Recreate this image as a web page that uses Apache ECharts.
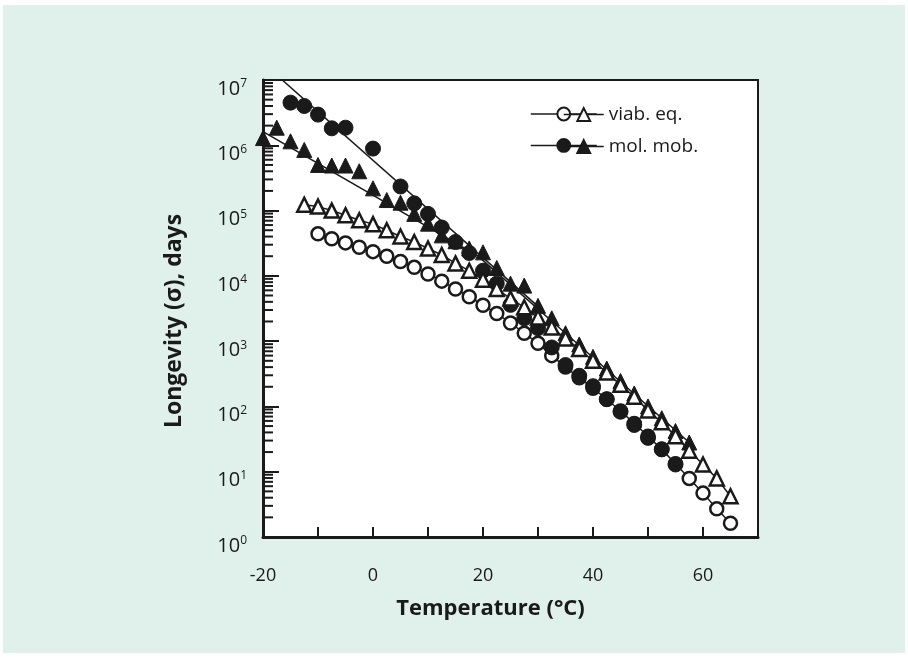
<!DOCTYPE html>
<html>
<head>
<meta charset="utf-8">
<script src="https://cdn.jsdelivr.net/npm/echarts@6.0.0/dist/echarts.min.js"></script>
<style>
  html, body { margin: 0; padding: 0; background: #ffffff; }
  #chart { position: absolute; left: 3px; top: 5px; width: 902px; height: 648px; }
</style>
</head>
<body>
<div id="chart"></div>
<script>
// viab. eq. - open circles
const viabCircT = [-10, -7.5, -5, -2.5, 0, 2.5, 5, 7.5, 10, 12.5, 15, 17.5, 20, 22.5, 25, 27.5, 30,
  32.5, 35, 37.5, 40, 42.5, 45, 47.5, 50, 52.5, 55, 57.5, 60, 62.5, 65];
const viabCircV = [44000, 37000, 32000, 27500, 23500, 20000, 16600, 13500, 10700, 8300, 6300, 4800, 3550,
  2650, 1900, 1320, 930, 600, 400, 275, 190, 129, 85, 55, 35, 22, 13.2, 7.9, 4.7, 2.7, 1.62];

// viab. eq. - open triangles
const viabTriT = [-12.5, -10, -7.5, -5, -2.5, 0, 2.5, 5, 7.5, 10, 12.5, 15, 17.5, 20, 22.5, 25, 27.5, 30,
  32.5, 35, 37.5, 40, 42.5, 45, 47.5, 50, 52.5, 55, 57.5, 60, 62.5, 65];
const viabTriV = [123000, 115000, 100000, 85000, 71000, 62000, 50000, 40000, 33000, 26300, 20900, 15500,
  12000, 8700, 6300, 4500, 3300, 2300, 1620, 1100, 760, 500, 330, 214, 141, 87, 57, 35, 21, 12.9, 7.9, 4.2];

// mol. mob. - filled circles
const molCircT = [-15, -12.5, -10, -7.5, -5, 0, 5, 7.5, 10, 12.5, 15, 17.5, 20, 22.5, 25, 27.5, 30,
  32.5, 35, 37.5, 40, 42.5, 45, 47.5, 50, 52.5, 55];
const molCircV = [4500000, 4000000, 2950000, 1820000, 1860000, 890000, 234000, 129000, 89000, 55000,
  33000, 22400, 12000, 7600, 3600, 2240, 1580, 800, 430, 295, 204, 129, 83, 52, 33, 22, 12.9];

// mol. mob. - filled triangles
const molTriT = [-20, -17.5, -15, -12.5, -10, -7.5, -5, -2.5, 0, 2.5, 5, 7.5, 10, 12.5, 15, 17.5, 20,
  22.5, 25, 27.5, 30, 32.5, 35, 37.5, 40, 42.5, 45, 47.5, 50, 52.5, 55, 57.5];
const molTriV = [1290000, 1860000, 1150000, 850000, 500000, 490000, 490000, 400000, 219000, 145000,
  132000, 89000, 63000, 41700, 33900, 26300, 22900, 13200, 7600, 7100, 3470, 2240, 1320, 890, 575, 380,
  245, 158, 100, 66, 42, 28];

// fitted lines (mol. mob.)
const fitCircT = [-16.5, 30];
const fitCircV = [10000000, 3400];
const fitTriT = [-20, 19, 35, 57.5];
const fitTriV = [1620000, 20400, 1320, 28];

const xMin = -20, xMax = 70, xStep = 10;
const yMin = 1, yMax = 10000000;

// log minor ticks 2..9 per decade
const minorTicks = [];
for (let e = 0; e < 7; e++) {
    for (let m = 2; m <= 9; m++) minorTicks.push([xMin, m * Math.pow(10, e)]);
}

const ink = '#1a1a1a';
const font = '"Open Sans"';

function pairs(xs, ys) {
    return xs.map((x, i) => [x, ys[i]]);
}

const myChart = echarts.init(document.getElementById('chart'));

const option = {
    backgroundColor: '#e0f0ea',
    animation: false,
    textStyle: {fontFamily: font, color: ink},
    grid: {
        left: 260, top: 75, right: 147, bottom: 116,
        show: true,
        backgroundColor: '#ffffff',
        borderColor: ink,
        borderWidth: 2
    },
    legend: [
        {
            // circles, icons only
            data: ['viab. eq. o', 'mol. mob. o'],
            left: 522, top: 96,
            orient: 'vertical',
            itemWidth: 66, itemHeight: 16, itemGap: 16,
            selectedMode: false,
            formatter: () => '',
            lineStyle: {width: 1.5, color: ink, opacity: 1}
        },
        {
            data: ['viab. eq.', 'mol. mob.'],
            left: 555, top: 95,
            orient: 'vertical',
            itemWidth: 40, itemHeight: 16, itemGap: 13,
            selectedMode: false,
            textStyle: {fontSize: 19, color: ink, fontFamily: font},
            lineStyle: {width: 1.5, color: ink, opacity: 1}
        }
    ],
    xAxis: {
        type: 'value',
        min: xMin, max: xMax, interval: xStep,
        name: 'Temperature (°C)',
        nameLocation: 'middle',
        nameGap: 61,
        nameTextStyle: {fontSize: 22, fontWeight: 'bold', color: ink, padding: [0, 40, 0, 0]},
        axisLine: {lineStyle: {color: ink, width: 3}},
        axisTick: {inside: true, length: 10, lineStyle: {width: 2, color: ink}},
        axisLabel: {
            margin: 30, fontSize: 18, color: ink,
            formatter: v => (v % 20 === 0 ? String(v) : '')
        },
        splitLine: {show: false}
    },
    yAxis: {
        type: 'log',
        logBase: 10,
        min: yMin, max: yMax,
        name: 'Longevity (σ), days',
        nameLocation: 'middle',
        nameGap: 77,
        nameTextStyle: {fontSize: 23, fontWeight: 'bold', color: ink, padding: [0, 25, 0, 0]},
        axisLine: {onZero: false, lineStyle: {color: ink, width: 3}},
        axisTick: {inside: true, length: 16, lineStyle: {width: 2, color: ink}},
        axisLabel: {
            margin: 16,
            padding: [18, 0, 0, 0],
            formatter: v => '{b|10}{s|' + Math.round(Math.log10(v)) + '}',
            rich: {
                b: {fontSize: 20, color: ink, fontFamily: font, lineHeight: 22},
                s: {fontSize: 12, color: ink, fontFamily: font, lineHeight: 12, verticalAlign: 'top'}
            }
        },
        splitLine: {show: false}
    },
    series: [
        {
            type: 'custom',
            silent: true,
            clip: false,
            z: 5,
            data: minorTicks,
            renderItem: function (params, api) {
                const p = api.coord([api.value(0), api.value(1)]);
                return {
                    type: 'line',
                    shape: {x1: p[0], y1: p[1], x2: p[0] + 10, y2: p[1]},
                    style: {stroke: ink, lineWidth: 2}
                };
            }
        },
        {
            type: 'line',
            silent: true,
            data: pairs(fitCircT, fitCircV),
            showSymbol: false,
            lineStyle: {color: ink, width: 1.6},
            z: 2
        },
        {
            type: 'line',
            silent: true,
            data: pairs(fitTriT, fitTriV),
            showSymbol: false,
            lineStyle: {color: ink, width: 1.6},
            z: 2
        },
        {
            name: 'viab. eq. o',
            type: 'line',
            data: pairs(viabCircT, viabCircV),
            symbol: 'circle',
            symbolSize: 13,
            lineStyle: {color: ink, width: 1.5},
            itemStyle: {color: '#ffffff', borderColor: ink, borderWidth: 2.5},
            z: 3
        },
        {
            name: 'mol. mob.',
            type: 'line',
            data: pairs(molTriT, molTriV),
            symbol: 'triangle',
            symbolSize: 15,
            lineStyle: {opacity: 0},
            itemStyle: {color: ink, borderColor: ink, borderWidth: 1},
            z: 4
        },
        {
            name: 'mol. mob. o',
            type: 'line',
            data: pairs(molCircT, molCircV),
            symbol: 'circle',
            symbolSize: 15,
            lineStyle: {opacity: 0},
            itemStyle: {color: ink, borderColor: ink, borderWidth: 1},
            z: 5
        },
        {
            name: 'viab. eq.',
            type: 'line',
            data: pairs(viabTriT, viabTriV),
            symbol: 'triangle',
            symbolSize: 14,
            lineStyle: {color: ink, width: 1.5},
            itemStyle: {color: '#ffffff', borderColor: ink, borderWidth: 2.5},
            z: 6
        }
    ]
};

myChart.setOption(option);
</script>
</body>
</html>
